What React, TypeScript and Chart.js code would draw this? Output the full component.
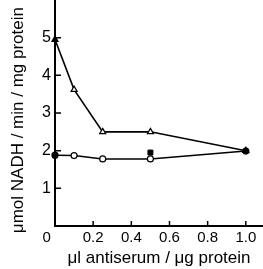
import React, { useEffect, useRef } from "react";
import { Chart, registerables } from "chart.js";

Chart.register(...registerables);

const xTicks = [0, 0.2, 0.4, 0.6, 0.8, 1.0];
const xTickLabels = ["0    ", "0.2", "0.4", "0.6", "0.8", "1.0"];
const yTicks = [1, 2, 3, 4, 5];
const yTickLabels = ["1", "2", "3", "4", "5"];

const triX = [0, 0.1, 0.25, 0.5, 1.0];
const triY = [4.95, 3.62, 2.5, 2.5, 2.0];
const triFill = ["#000", "#fff", "#fff", "#fff", "#000"];

const circX = [0, 0.1, 0.25, 0.5, 1.0];
const circY = [1.88, 1.87, 1.78, 1.78, 1.99];
const circFill = ["#000", "#fff", "#fff", "#fff", "#000"];

const sqX = [0.5];
const sqY = [1.95];

const xTitle = "μl antiserum / μg protein";
const yTitle = "μmol NADH / min / mg protein   ";

const FONT = "'Liberation Sans', Arial, sans-serif";

const inwardTicks = {
  id: "inwardTicks",
  afterDraw(chart: any) {
    const ctx = chart.ctx;
    const xs = chart.scales.x;
    const ys = chart.scales.y;
    ctx.save();
    ctx.strokeStyle = "#000";
    ctx.lineWidth = 1.5;
    ctx.beginPath();
    xTicks.forEach((v) => {
      if (v === 0) return;
      const px = xs.getPixelForValue(v);
      ctx.moveTo(px, ys.bottom);
      ctx.lineTo(px, ys.bottom - 5);
    });
    yTicks.forEach((v) => {
      const py = ys.getPixelForValue(v);
      ctx.moveTo(xs.left, py);
      ctx.lineTo(xs.left + 6, py);
    });
    ctx.stroke();
    ctx.restore();
  },
};

const zeroPad = (s: any) => {
  s.paddingTop = 0;
  s.paddingBottom = 0;
  s.paddingLeft = 0;
  s.paddingRight = 0;
};

export default function App() {
  const ref = useRef<HTMLCanvasElement | null>(null);
  useEffect(() => {
    if (!ref.current) return;
    const chart = new Chart(ref.current, {
      type: "scatter",
      data: {
        datasets: [
          {
            data: triX.map((x, i) => ({ x, y: triY[i] })),
            showLine: true,
            borderColor: "#000",
            borderWidth: 1.6,
            pointStyle: "triangle",
            pointRadius: 3.5,
            pointBorderWidth: 1.2,
            pointBorderColor: "#000",
            pointBackgroundColor: triFill,
            clip: false,
          },
          {
            data: circX.map((x, i) => ({ x, y: circY[i] })),
            showLine: true,
            borderColor: "#000",
            borderWidth: 1.6,
            pointStyle: "circle",
            pointRadius: 3,
            pointBorderWidth: 1.2,
            pointBorderColor: "#000",
            pointBackgroundColor: circFill,
            clip: false,
          },
          {
            data: sqX.map((x, i) => ({ x, y: sqY[i] })),
            showLine: false,
            pointStyle: "rect",
            pointRadius: 3.5,
            pointBorderColor: "#000",
            pointBackgroundColor: "#000",
            clip: false,
          },
        ],
      },
      options: {
        animation: false,
        responsive: false,
        maintainAspectRatio: false,
        layout: { autoPadding: false, padding: { left: 0, right: 0, top: 0, bottom: 0 } },
        plugins: { legend: { display: false }, tooltip: { enabled: false } },
        scales: {
          x: {
            type: "linear",
            min: 0,
            max: 1.09,
            afterBuildTicks: (s: any) => {
              s.ticks = xTicks.map((v) => ({ value: v }));
            },
            afterFit: (s: any) => {
              s.height = 43;
              zeroPad(s);
            },
            ticks: {
              color: "#000",
              font: { family: FONT, size: 15 },
              padding: 3,
              maxRotation: 0,
              autoSkip: false,
              callback: (v: any) => {
                const i = xTicks.indexOf(Number(v));
                return i >= 0 ? xTickLabels[i] : "";
              },
            },
            grid: { display: false, drawTicks: false },
            border: { color: "#000", width: 2 },
            title: {
              display: true,
              text: xTitle,
              color: "#000",
              font: { family: FONT, size: 17 },
              padding: { top: 0, bottom: 0 },
            },
          },
          y: {
            type: "linear",
            min: 0,
            max: 6,
            afterBuildTicks: (s: any) => {
              s.ticks = yTicks.map((v) => ({ value: v }));
            },
            afterFit: (s: any) => {
              s.width = 55;
              zeroPad(s);
            },
            ticks: {
              color: "#000",
              font: { family: FONT, size: 16 },
              padding: 4,
              autoSkip: false,
              callback: (v: any) => {
                const i = yTicks.indexOf(Number(v));
                return i >= 0 ? yTickLabels[i] : "";
              },
            },
            grid: { display: false, drawTicks: false },
            border: { color: "#000", width: 2 },
            title: {
              display: true,
              text: yTitle,
              color: "#000",
              font: { family: FONT, size: 17 },
              padding: { top: 8, bottom: 0 },
            },
          },
        },
      },
      plugins: [inwardTicks],
    } as any);
    return () => chart.destroy();
  }, []);
  return (
    <div style={{ position: "fixed", left: 0, top: 0, width: 263, height: 269, background: "#fff" }}>
      <canvas ref={ref} width={263} height={269} style={{ width: 263, height: 269 }} />
    </div>
  );
}
